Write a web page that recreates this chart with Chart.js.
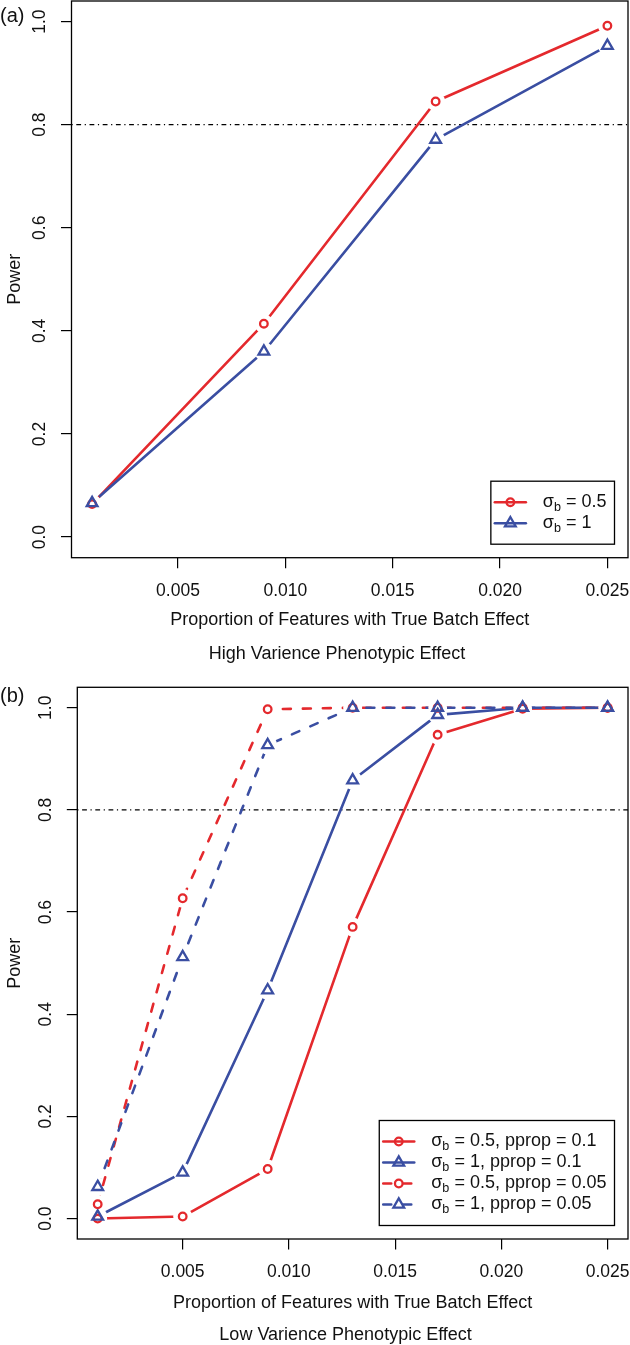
<!DOCTYPE html>
<html><head><meta charset="utf-8">
<script src="https://cdn.jsdelivr.net/npm/chart.js@4.4.1/dist/chart.umd.min.js"></script>
<style>
html,body{margin:0;padding:0;background:#fff;}
#wrap{position:relative;width:630px;height:1345px;overflow:hidden;}
canvas{position:absolute;left:0;display:block;}
</style></head><body>
<div id="wrap">
<canvas id="ca" width="630" height="672" style="top:0px"></canvas>
<canvas id="cb" width="630" height="673" style="top:672px"></canvas>
</div>
<script>
// ---------------- data ----------------
const xA = [0.001, 0.009, 0.017, 0.025];
const powerA_sb05 = [0.064, 0.414, 0.845, 0.992];
const powerA_sb1  = [0.066, 0.360, 0.771, 0.953];

const xB = [0.001, 0.005, 0.009, 0.013, 0.017, 0.021, 0.025];
const powerB_sb05_p10 = [0.000, 0.004, 0.097, 0.571, 0.947, 0.998, 1.000];
const powerB_sb1_p10  = [0.004, 0.090, 0.447, 0.858, 0.986, 1.000, 1.000];
const powerB_sb05_p05 = [0.028, 0.627, 0.997, 1.000, 1.000, 1.000, 1.000];
const powerB_sb1_p05  = [0.062, 0.512, 0.927, 1.000, 1.000, 1.000, 1.000];

const xTickValues = [0.005, 0.010, 0.015, 0.020, 0.025];
const xTickLabels = ['0.005', '0.010', '0.015', '0.020', '0.025'];
const yTickValues = [0.0, 0.2, 0.4, 0.6, 0.8, 1.0];
const yTickLabels = ['0.0', '0.2', '0.4', '0.6', '0.8', '1.0'];

const legendA = ['σ_b = 0.5', 'σ_b = 1'];
const legendB = ['σ_b = 0.5, pprop = 0.1', 'σ_b = 1, pprop = 0.1', 'σ_b = 0.5, pprop = 0.05', 'σ_b = 1, pprop = 0.05'];

const xTitle = 'Proportion of Features with True Batch Effect';
const yTitle = 'Power';
const captionA = 'High Varience Phenotypic Effect';
const captionB = 'Low Varience Phenotypic Effect';
const panelA = '(a)';
const panelB = '(b)';
const threshold = 0.8;
const xLimits = [0.001, 0.025];
const yLimits = [0, 1];

// ---------------- style ----------------
const RED = '#E4292D';
const BLUE = '#3A4EA2';
const FONT = '"Liberation Sans", Arial, Helvetica, sans-serif';
const TXT = '#111';
const DASH = [8, 12];
const DOTDASH = [1.2, 3.6, 4.8, 3.6];
const GAP_R = 9.5;
const LINE_W = 2.6;

Chart.defaults.font.family = FONT;
Chart.defaults.color = TXT;

function ext(lim) { const d = (lim[1] - lim[0]) * 0.04; return [lim[0] - d, lim[1] + d]; }
function labelFor(vals, labels, v) {
  for (let i = 0; i < vals.length; i++) if (Math.abs(vals[i] - v) < 1e-9) return labels[i];
  return '';
}

function buildDatasets(xs, series) {
  const N = series.length, out = [];
  series.forEach((s, i) => {
    const pts = xs.map((x, j) => ({x: x, y: s.values[j]}));
    out.push({
      label: s.label, data: pts, showLine: true, rGap: true,
      borderColor: s.color, borderWidth: LINE_W, borderDash: s.dashed ? DASH : [],
      borderCapStyle: 'round', borderJoinStyle: 'round', tension: 0, fill: false,
      pointRadius: 0, pointHoverRadius: 0, order: 2 * (N - i)
    });
    out.push({
      label: s.label + ' (points)', data: pts, showLine: false,
      pointStyle: s.marker, pointRadius: s.marker === 'circle' ? 3.8 : 6.2,
      pointBorderWidth: 2.3, pointBorderColor: s.color, pointBackgroundColor: 'rgba(0,0,0,0)',
      pointHoverRadius: 0, order: 2 * (N - i) - 1
    });
  });
  return out;
}

// gaps in lines around points (like R type = "b")
const rGap = {
  id: 'rGap',
  beforeDatasetDraw(chart, args) {
    const ds = chart.data.datasets[args.index];
    if (!ds.rGap) return;
    const ctx = chart.ctx;
    ctx.save();
    ctx.beginPath();
    ctx.rect(0, 0, chart.width, chart.height);
    args.meta.data.forEach(p => {
      ctx.moveTo(p.x + GAP_R, p.y);
      ctx.arc(p.x, p.y, GAP_R, 0, Math.PI * 2);
    });
    ctx.clip('evenodd');
  },
  afterDatasetDraw(chart, args) {
    const ds = chart.data.datasets[args.index];
    if (!ds.rGap) return;
    chart.ctx.restore();
  }
};

function drawMarker(ctx, style, x, y, color) {
  ctx.save();
  ctx.strokeStyle = color; ctx.lineWidth = 2.3; ctx.setLineDash([]);
  ctx.beginPath();
  if (style === 'circle') {
    ctx.arc(x, y, 3.8, 0, Math.PI * 2);
  } else {
    const r = 6.2;
    ctx.moveTo(x, y - r);
    ctx.lineTo(x + r * Math.sin(2 * Math.PI / 3), y - r * Math.cos(2 * Math.PI / 3));
    ctx.lineTo(x + r * Math.sin(4 * Math.PI / 3), y - r * Math.cos(4 * Math.PI / 3));
    ctx.closePath();
  }
  ctx.stroke();
  ctx.restore();
}

const rDecor = {
  id: 'rDecor',
  beforeDatasetsDraw(chart, args, o) {
    const ctx = chart.ctx, ca = chart.chartArea;
    const y = chart.scales.y.getPixelForValue(o.threshold);
    ctx.save();
    ctx.strokeStyle = '#000'; ctx.lineWidth = 1.2; ctx.setLineDash(DOTDASH);
    ctx.beginPath(); ctx.moveTo(ca.left, y); ctx.lineTo(ca.right, y); ctx.stroke();
    ctx.restore();
  },
  afterDraw(chart, args, o) {
    const ctx = chart.ctx, ca = chart.chartArea;
    ctx.save();
    // plot box
    ctx.strokeStyle = '#000'; ctx.lineWidth = 1.3; ctx.setLineDash([]);
    ctx.strokeRect(ca.left, ca.top, ca.right - ca.left, ca.bottom - ca.top);
    // panel label
    ctx.fillStyle = TXT;
    ctx.font = '20px ' + FONT; ctx.textAlign = 'left'; ctx.textBaseline = 'alphabetic';
    ctx.fillText(o.panel, o.panelX, o.panelY);
    // caption
    ctx.font = '18px ' + FONT; ctx.textAlign = 'center'; ctx.textBaseline = 'middle';
    ctx.fillText(o.caption, o.captionX, o.captionY);
    // legend
    const fs = 18, sfs = 12.6;
    const parts = o.items.map(it => { const k = it.label.indexOf('_'); return [it.label.slice(0, k), it.label.charAt(k + 1), it.label.slice(k + 2)]; });
    let maxW = 0;
    parts.forEach(p => {
      ctx.font = fs + 'px ' + FONT; const w1 = ctx.measureText(p[0]).width + ctx.measureText(p[2]).width;
      ctx.font = sfs + 'px ' + FONT; const w2 = ctx.measureText(p[1]).width;
      maxW = Math.max(maxW, w1 + w2);
    });
    const rowH = 21, pad = 10.5;
    const boxW = 52 + maxW + 8, boxH = o.items.length * rowH + 2 * pad;
    const right = ca.right - 13.5, bottom = ca.bottom - 13.5;
    const left = right - boxW, top = bottom - boxH;
    ctx.fillStyle = '#fff'; ctx.fillRect(left, top, boxW, boxH);
    ctx.strokeStyle = '#000'; ctx.lineWidth = 1.3; ctx.strokeRect(left, top, boxW, boxH);
    o.items.forEach((it, i) => {
      const cy = top + pad + rowH * (i + 0.5);
      ctx.save();
      ctx.strokeStyle = it.color; ctx.lineWidth = LINE_W; ctx.lineCap = 'round';
      ctx.setLineDash(it.dashed ? DASH : []);
      ctx.beginPath(); ctx.moveTo(left + 4, cy); ctx.lineTo(left + 35, cy); ctx.stroke();
      ctx.restore();
      drawMarker(ctx, it.marker, left + 19.5, cy, it.color);
      const p = parts[i];
      let tx = left + 52;
      ctx.fillStyle = TXT; ctx.textAlign = 'left'; ctx.textBaseline = 'middle';
      ctx.font = fs + 'px ' + FONT; ctx.fillText(p[0], tx, cy); tx += ctx.measureText(p[0]).width;
      ctx.font = sfs + 'px ' + FONT; ctx.fillText(p[1], tx, cy + 5); tx += ctx.measureText(p[1]).width;
      ctx.font = fs + 'px ' + FONT; ctx.fillText(p[2], tx, cy);
    });
    ctx.restore();
  }
};

function makeChart(id, cfg) {
  const xr = ext(xLimits), yr = ext(yLimits);
  const items = cfg.series.map(s => ({label: s.label, color: s.color, marker: s.marker, dashed: s.dashed}));
  return new Chart(document.getElementById(id), {
    type: 'scatter',
    data: {datasets: buildDatasets(cfg.xs, cfg.series)},
    options: {
      responsive: false, animation: false, events: [],
      layout: {padding: cfg.padding, autoPadding: false},
      plugins: {
        legend: {display: false}, tooltip: {enabled: false},
        rDecor: {threshold: threshold, items: items, panel: cfg.panel, panelX: 0, panelY: cfg.panelY,
                 caption: cfg.caption, captionX: cfg.captionX, captionY: cfg.captionY}
      },
      scales: {
        x: {
          type: 'linear', min: xr[0], max: xr[1],
          afterFit: s => { s.height = cfg.xAxisH; s.paddingLeft = 0; s.paddingRight = 0; },
          ticks: {stepSize: 0.005, includeBounds: false, autoSkip: false, minRotation: 0, maxRotation: 0,
                  padding: 12, color: TXT, font: {size: 17.5},
                  callback: v => labelFor(xTickValues, xTickLabels, v)},
          grid: {display: true, drawOnChartArea: false, drawTicks: true, tickLength: 10.5, color: '#000', lineWidth: 1.2},
          border: {display: false},
          title: {display: true, text: xTitle, color: TXT, font: {size: 18}, padding: {top: 0, bottom: cfg.xTitlePad}}
        },
        y: {
          type: 'linear', min: yr[0], max: yr[1],
          afterFit: s => { s.width = cfg.yAxisW; s.paddingTop = 0; s.paddingBottom = 0; },
          ticks: {stepSize: 0.2, includeBounds: false, autoSkip: false, minRotation: 90, maxRotation: 90,
                  crossAlign: 'center', padding: 8.8, color: TXT, font: {size: 17.5},
                  callback: v => labelFor(yTickValues, yTickLabels, v)},
          grid: {display: true, drawOnChartArea: false, drawTicks: true, tickLength: 10.5, color: '#000', lineWidth: 1.2},
          border: {display: false},
          title: {display: true, text: yTitle, color: TXT, font: {size: 18}, padding: {top: 4.2, bottom: 0}}
        }
      }
    },
    plugins: [rGap, rDecor]
  });
}

makeChart('ca', {
  xs: xA,
  series: [
    {label: legendA[0], values: powerA_sb05, color: RED, marker: 'circle', dashed: false},
    {label: legendA[1], values: powerA_sb1, color: BLUE, marker: 'triangle', dashed: false}
  ],
  padding: {left: 0, top: 1, right: 2, bottom: 0},
  yAxisW: 71.5, xAxisH: 114.3, xTitlePad: 41.2,
  panel: panelA, panelY: 22, caption: captionA, captionX: 337, captionY: 654
});

makeChart('cb', {
  xs: xB,
  series: [
    {label: legendB[0], values: powerB_sb05_p10, color: RED, marker: 'circle', dashed: false},
    {label: legendB[1], values: powerB_sb1_p10, color: BLUE, marker: 'triangle', dashed: false},
    {label: legendB[2], values: powerB_sb05_p05, color: RED, marker: 'circle', dashed: true},
    {label: legendB[3], values: powerB_sb1_p05, color: BLUE, marker: 'triangle', dashed: true}
  ],
  padding: {left: 0, top: 15.3, right: 2, bottom: 0},
  yAxisW: 77.3, xAxisH: 106, xTitlePad: 30.9,
  panel: panelB, panelY: 30.4, caption: captionB, captionX: 345.6, captionY: 663.5
});
</script>
</body></html>
